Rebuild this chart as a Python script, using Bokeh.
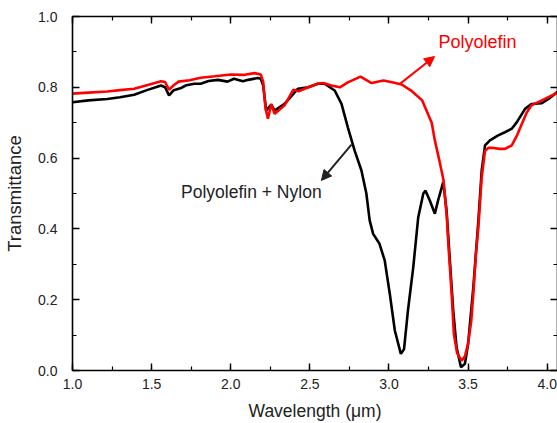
from bokeh.plotting import figure
from bokeh.models import (Range1d, LinearAxis, SingleIntervalTicker, NumeralTickFormatter,
                          Label, Arrow, NormalHead)
from bokeh.embed import file_html
from bokeh.resources import INLINE

red_x = [1.00, 1.10, 1.22, 1.30, 1.39, 1.47, 1.56, 1.585, 1.61, 1.64, 1.67, 1.74, 1.81, 1.90,
         2.00, 2.08, 2.15, 2.19, 2.205, 2.22, 2.235, 2.256, 2.277, 2.30, 2.34, 2.395, 2.43,
         2.49, 2.55, 2.585, 2.636, 2.69, 2.74, 2.82, 2.855, 2.89, 2.965, 3.02, 3.08, 3.145,
         3.21, 3.27, 3.29, 3.315, 3.345, 3.366, 3.375, 3.396, 3.41, 3.43, 3.459, 3.48, 3.50,
         3.52, 3.533, 3.55, 3.565, 3.586, 3.607, 3.63, 3.65, 3.70, 3.733, 3.776, 3.81, 3.84,
         3.87, 3.90, 3.966, 4.03, 4.073]
red_y = [0.782, 0.785, 0.788, 0.792, 0.796, 0.806, 0.817, 0.815, 0.793, 0.806, 0.816, 0.820,
         0.827, 0.831, 0.836, 0.835, 0.840, 0.836, 0.815, 0.740, 0.711, 0.753, 0.725, 0.734,
         0.749, 0.793, 0.789, 0.800, 0.810, 0.812, 0.805, 0.800, 0.814, 0.830, 0.821, 0.812,
         0.819, 0.814, 0.808, 0.789, 0.763, 0.700, 0.650, 0.600, 0.537, 0.430, 0.358, 0.217,
         0.104, 0.050, 0.028, 0.040, 0.076, 0.140, 0.217, 0.330, 0.405, 0.546, 0.621, 0.629,
         0.629, 0.626, 0.626, 0.636, 0.665, 0.697, 0.728, 0.749, 0.763, 0.777, 0.786]

black_x = [1.00, 1.10, 1.22, 1.30, 1.39, 1.47, 1.56, 1.585, 1.61, 1.64, 1.686, 1.72, 1.77,
           1.81, 1.86, 1.92, 1.98, 2.02, 2.077, 2.11, 2.17, 2.19, 2.205, 2.224, 2.256, 2.277,
           2.34, 2.425, 2.49, 2.55, 2.593, 2.657, 2.70, 2.74, 2.783, 2.826, 2.857, 2.878,
           2.90, 2.94, 2.973, 3.005, 3.037, 3.075, 3.095, 3.12, 3.153, 3.185, 3.217, 3.231,
           3.258, 3.29, 3.31, 3.343, 3.364, 3.385, 3.406, 3.427, 3.455, 3.48, 3.50, 3.533,
           3.565, 3.586, 3.607, 3.638, 3.69, 3.733, 3.776, 3.807, 3.86, 3.90, 3.966, 4.008,
           4.073]
black_y = [0.758, 0.763, 0.767, 0.772, 0.779, 0.792, 0.805, 0.800, 0.777, 0.792, 0.798,
           0.806, 0.810, 0.810, 0.818, 0.821, 0.816, 0.824, 0.817, 0.821, 0.826, 0.824, 0.805,
           0.734, 0.751, 0.734, 0.753, 0.796, 0.800, 0.810, 0.810, 0.791, 0.753, 0.687, 0.621,
           0.565, 0.500, 0.424, 0.386, 0.358, 0.311, 0.217, 0.113, 0.047, 0.060, 0.170, 0.290,
           0.433, 0.500, 0.508, 0.480, 0.443, 0.480, 0.532, 0.452, 0.310, 0.170, 0.066, 0.009,
           0.019, 0.075, 0.235, 0.424, 0.565, 0.636, 0.650, 0.664, 0.673, 0.683, 0.701, 0.739,
           0.753, 0.755, 0.767, 0.790]

x_ticks_step = 0.5
y_ticks_step = 0.2
FONT = "Liberation Sans"

p = figure(width=557, height=423, output_backend="svg", toolbar_location=None,
           x_range=Range1d(1.0, 4.065), y_range=Range1d(0.0, 1.0),
           min_border_left=72, min_border_right=0, min_border_top=16, min_border_bottom=53)
p.xgrid.visible = False
p.ygrid.visible = False
p.outline_line_color = None
p.background_fill_color = "white"

p.line(black_x, black_y, line_color="black", line_width=2.6)
p.line(red_x, red_y, line_color="#ff0000", line_width=2.6)

def style(ax, step, show_labels):
    ax.ticker = SingleIntervalTicker(interval=step, num_minor_ticks=2)
    ax.axis_line_color = "black"
    ax.axis_line_width = 1.6
    ax.major_tick_line_color = "black"
    ax.minor_tick_line_color = "black"
    ax.major_tick_line_width = 1.4
    ax.minor_tick_line_width = 1.2
    ax.major_tick_in = 7
    ax.major_tick_out = 0
    ax.minor_tick_in = 4
    ax.minor_tick_out = 0
    if show_labels:
        ax.formatter = NumeralTickFormatter(format="0.0")
        ax.major_label_text_font = FONT
        ax.major_label_text_font_size = "14px"
        ax.major_label_text_color = "#222222"
    else:
        ax.major_label_text_font_size = "0px"
        ax.major_label_text_color = None
        ax.major_label_standoff = 0

xa = p.xaxis[0]
style(xa, x_ticks_step, True)
xa.major_label_standoff = 8
xa.axis_label = "Wavelength (μm)"
xa.axis_label_text_font = FONT
xa.axis_label_text_font_size = "17.5px"
xa.axis_label_text_font_style = "normal"
xa.axis_label_text_color = "#222222"
xa.axis_label_standoff = 9

ya = p.yaxis[0]
style(ya, y_ticks_step, True)
ya.major_label_standoff = 15
ya.axis_label = "Transmittance"
ya.axis_label_text_font = FONT
ya.axis_label_text_font_size = "18.5px"
ya.axis_label_text_font_style = "normal"
ya.axis_label_text_color = "#222222"
ya.axis_label_standoff = 10

top = LinearAxis()
style(top, x_ticks_step, False)
p.add_layout(top, "above")
right = LinearAxis()
style(right, y_ticks_step, False)
p.add_layout(right, "right")

p.add_layout(Label(x=3.313, y=0.927, text="Polyolefin", text_color="#ff0000",
                   text_font=FONT, text_font_size="18px", text_baseline="middle"))
p.add_layout(Label(x=1.686, y=0.503, text="Polyolefin + Nylon", text_color="#222222",
                   text_font=FONT, text_font_size="17.5px", text_baseline="middle"))

p.add_layout(Arrow(x_start=3.073, y_start=0.811, x_end=3.288, y_end=0.887,
                   line_color="#ff0000", line_width=2,
                   end=NormalHead(size=10, fill_color="#ff0000", line_color="#ff0000")))
p.add_layout(Arrow(x_start=2.763, y_start=0.638, x_end=2.573, y_end=0.537,
                   line_color="#222222", line_width=2,
                   end=NormalHead(size=10, fill_color="#222222", line_color="#222222")))

open("out.html", "w").write(file_html(p, INLINE))
